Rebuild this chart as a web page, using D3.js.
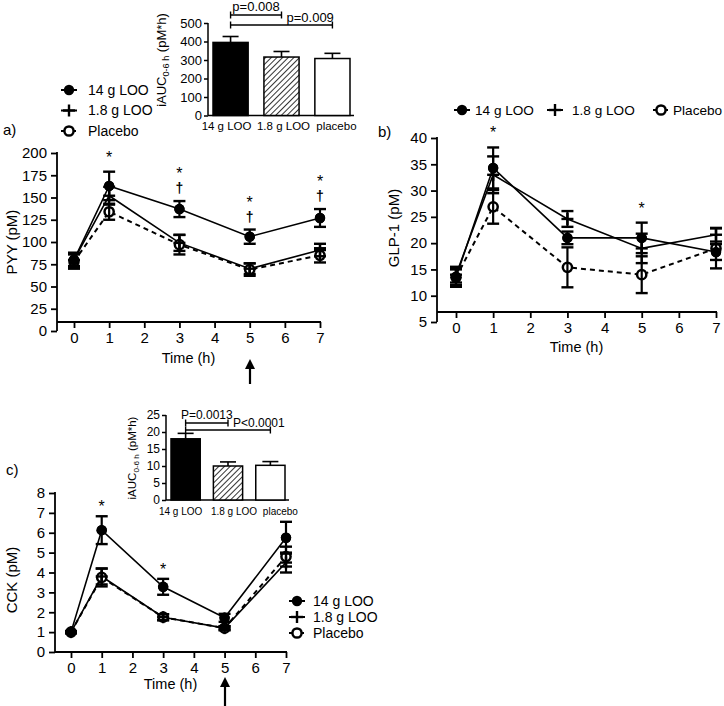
<!DOCTYPE html>
<html><head><meta charset="utf-8">
<script src="https://cdn.jsdelivr.net/npm/d3@7"></script>
<style>
body{margin:0;background:#fff}
text{font-family:"Liberation Sans",Arial,Helvetica,sans-serif;fill:#000}
</style>
</head><body>
<svg id="chart" width="724" height="706"></svg>
<script>
// ---------------- DATA ----------------
const times = [0, 1, 3, 5, 7];
const seriesNames = ["14 g LOO", "1.8 g LOO", "Placebo"];
const barCategories = ["14 g LOO", "1.8 g LOO", "placebo"];

const pyy14 = [80, 163, 137, 106, 127];
const pyy14Err = [8, 16, 9, 8, 10];
const pyy18 = [80, 152, 99, 70, 91];
const pyy18Err = [7, 10, 9, 6, 7];
const pyyPl = [78, 134, 97, 69, 85];
const pyyPlErr = [8, 9, 11, 7, 8];
const pyyTicks = [0, 25, 50, 75, 100, 125, 150, 175, 200];

const glp14 = [13.5, 34.3, 21.0, 21.0, 18.3];
const glp14Err = [1.8, 3.9, 1.2, 2.9, 1.5];
const glp18 = [14.0, 33.0, 24.6, 19.0, 21.6];
const glp18Err = [1.5, 3.5, 1.5, 2.8, 1.3];
const glpPl = [13.5, 26.9, 15.4, 14.0, 19.0];
const glpPlErr = [1.5, 3.2, 3.8, 3.5, 3.8];
const glpTicks = [5, 10, 15, 20, 25, 30, 35, 40];

const cck14 = [1.0, 6.13, 3.28, 1.72, 5.75];
const cck14Err = [0.05, 0.7, 0.4, 0.2, 0.8];
const cck18 = [1.0, 3.8, 1.75, 1.2, 4.5];
const cck18Err = [0.05, 0.4, 0.15, 0.1, 0.5];
const cckPl = [1.0, 3.75, 1.75, 1.2, 4.8];
const cckPlErr = [0.05, 0.45, 0.15, 0.1, 0.5];
const cckTicks = [0, 1, 2, 3, 4, 5, 6, 7, 8];

const xTicks = [0, 1, 2, 3, 4, 5, 6, 7];

const aucPyy = [395, 316, 308];
const aucPyyErr = [32, 30, 28];
const aucPyyTicks = [0, 100, 200, 300, 400, 500];
const aucCck = [18.0, 10.0, 10.2];
const aucCckErr = [1.6, 1.2, 1.1];
const aucCckTicks = [0, 5, 10, 15, 20, 25];

const annotPyy = [{t: 1, marks: ["*"]}, {t: 3, marks: ["*", "†"]}, {t: 5, marks: ["*", "†"]}, {t: 7, marks: ["*", "†"]}];
const annotGlp = [{t: 1, marks: ["*"]}, {t: 5, marks: ["*"]}];
const annotCck = [{t: 1, marks: ["*"]}, {t: 3, marks: ["*"]}];

const sigPyy = [{from: 0, to: 1, label: "p=0.008"}, {from: 0, to: 2, label: "p=0.009"}];
const sigCck = [{from: 0, to: 1, label: "P=0.0013"}, {from: 0, to: 2, label: "P<0.0001"}];

// ---------------- DRAWING ----------------
const svg = d3.select("#chart");
const defs = svg.append("defs");
const pat = defs.append("pattern").attr("id", "hatch").attr("patternUnits", "userSpaceOnUse")
  .attr("width", 4).attr("height", 4).attr("patternTransform", "rotate(45)");
pat.append("rect").attr("width", 4).attr("height", 4).attr("fill", "#fff");
pat.append("line").attr("x1", 0).attr("y1", 0).attr("x2", 0).attr("y2", 4).attr("stroke", "#000").attr("stroke-width", 1.6);

const markerTypes = ["filled", "plus", "open"];
const lineDash = [null, null, "5,4"];
const lineWidth = [1.6, 1.6, 2];

function marker(g, type, x, y) {
  if (type === "filled") {
    g.append("circle").attr("cx", x).attr("cy", y).attr("r", 5.2).attr("fill", "#000");
  } else if (type === "open") {
    g.append("circle").attr("cx", x).attr("cy", y).attr("r", 4.6).attr("fill", "#fff")
      .attr("stroke", "#000").attr("stroke-width", 2.5);
  } else {
    g.append("line").attr("x1", x - 6).attr("x2", x + 6).attr("y1", y).attr("y2", y).attr("stroke", "#000").attr("stroke-width", 2.4);
    g.append("line").attr("x1", x).attr("x2", x).attr("y1", y - 6).attr("y2", y + 6).attr("stroke", "#000").attr("stroke-width", 2.4);
  }
}

function legendItem(g, i, x, y, fs, off) {
  const l = g.append("line").attr("x1", x - 8).attr("x2", x + 8).attr("y1", y).attr("y2", y)
    .attr("stroke", "#000").attr("stroke-width", 2);
  if (lineDash[i]) l.attr("stroke-dasharray", "3,3");
  marker(g, markerTypes[i], x, y);
  g.append("text").attr("x", x + off).attr("y", y).attr("dy", "0.35em").attr("font-size", fs).text(seriesNames[i]);
}

function linePanel(o) {
  const x = d3.scaleLinear().domain([0, 7]).range(o.xr);
  const y = d3.scaleLinear().domain(o.yd).range(o.yr);
  const g = svg.append("g");
  const ya = g.append("g").attr("transform", `translate(${o.yAxisX},0)`)
    .call(d3.axisLeft(y).tickValues(o.yTicks).tickSize(6).tickPadding(4));
  ya.select(".domain").remove();
  ya.selectAll("line").attr("stroke-width", 1.8);
  ya.selectAll("text").attr("font-size", 15).attr("font-family", null);
  g.append("line").attr("x1", o.yAxisX).attr("x2", o.yAxisX).attr("y1", y(o.yd[1]) - 1).attr("y2", o.yBottom)
    .attr("stroke", "#000").attr("stroke-width", 1.8);
  const xa = g.append("g").attr("transform", `translate(0,${o.xAxisY})`)
    .call(d3.axisBottom(x).tickValues(xTicks).tickFormat(d3.format("d")).tickSize(6).tickPadding(4));
  xa.select(".domain").remove();
  xa.selectAll("line").attr("stroke-width", 1.8);
  xa.selectAll("text").attr("font-size", 15).attr("font-family", null);
  g.append("line").attr("x1", o.yAxisX).attr("x2", x(7) + 1).attr("y1", o.xAxisY).attr("y2", o.xAxisY)
    .attr("stroke", "#000").attr("stroke-width", 1.8);
  g.append("text").attr("x", (o.yAxisX + x(7)) / 2).attr("y", o.timeY).attr("text-anchor", "middle")
    .attr("font-size", 14.5).text("Time (h)");
  g.append("text").attr("transform", `translate(${o.ylabX},${o.ylabY}) rotate(-90)`).attr("text-anchor", "middle")
    .attr("font-size", 15).text(o.ylab);
  g.append("text").attr("x", o.tagX).attr("y", o.tagY).attr("font-size", 15).text(o.tag);

  const line = d3.line().x((d, i) => x(times[i])).y(d => y(d));
  [2, 1, 0].forEach(si => {
    const p = g.append("path").datum(o.vals[si]).attr("d", line).attr("fill", "none")
      .attr("stroke", "#000").attr("stroke-width", lineWidth[si]);
    if (lineDash[si]) p.attr("stroke-dasharray", lineDash[si]);
  });
  [2, 1, 0].forEach(si => {
    o.vals[si].forEach((v, i) => marker(g, markerTypes[si], x(times[i]), y(v)));
    o.vals[si].forEach((v, i) => {
      const cx = x(times[i]), e = o.errs[si][i];
      g.append("line").attr("x1", cx).attr("x2", cx).attr("y1", y(v - e)).attr("y2", y(v + e)).attr("stroke", "#000").attr("stroke-width", 2.2);
      [v - e, v + e].forEach(w => g.append("line").attr("x1", cx - 6).attr("x2", cx + 6).attr("y1", y(w)).attr("y2", y(w))
        .attr("stroke", "#000").attr("stroke-width", 2.4));
    });
  });
  o.vals[0].forEach((v, i) => marker(g, markerTypes[0], x(times[i]), y(v)));
  // annotations stacked above the 14 g error bar
  o.annot.forEach(a => {
    const i = times.indexOf(a.t);
    const top = y(o.vals[0][i] + o.errs[0][i]);
    let c = top - (a.marks[a.marks.length - 1] === "†" ? 13 : o.starGap);
    a.marks.slice().reverse().forEach(m => {
      if (m === "*") {
        g.append("text").attr("x", x(a.t)).attr("y", c + 8).attr("text-anchor", "middle").attr("font-size", 16).text("*");
      } else {
        g.append("text").attr("x", x(a.t)).attr("y", c + 5).attr("text-anchor", "middle").attr("font-size", 14).attr("font-weight", "bold").text(m);
      }
      c -= 17;
    });
  });
  return {x, y, g};
}

function arrow(x, yTip, yBase) {
  svg.append("line").attr("x1", x).attr("x2", x).attr("y1", yBase).attr("y2", yTip + 8).attr("stroke", "#000").attr("stroke-width", 2.2);
  svg.append("path").attr("d", `M${x - 5},${yTip + 10}L${x},${yTip}L${x + 5},${yTip + 10}Z`).attr("fill", "#000");
}

function barInset(o) {
  const g = svg.append("g");
  const xb = d3.scaleBand().domain(barCategories).range(o.xr).paddingInner(0.31).paddingOuter(0);
  const y = d3.scaleLinear().domain(o.yd).range(o.yr);
  const ya = g.append("g").attr("transform", `translate(${o.axisX},0)`)
    .call(d3.axisLeft(y).tickValues(o.ticks).tickSize(4).tickPadding(2));
  ya.select(".domain").remove();
  ya.selectAll("line").attr("stroke-width", 1.5);
  ya.selectAll("text").attr("font-size", o.tfs).attr("font-family", null);
  g.append("line").attr("x1", o.axisX).attr("x2", o.axisX).attr("y1", y(o.yd[1])).attr("y2", y(0)).attr("stroke", "#000").attr("stroke-width", 1.5);
  g.append("line").attr("x1", o.axisX).attr("x2", o.xr[1] + 4).attr("y1", y(0)).attr("y2", y(0)).attr("stroke", "#000").attr("stroke-width", 1.5);
  const fills = ["#000", "url(#hatch)", "#fff"];
  barCategories.forEach((c, i) => {
    const bx = xb(c), bw = xb.bandwidth(), cx = bx + bw / 2;
    const top = y(o.vals[i]), etop = y(o.vals[i] + o.errs[i]);
    g.append("line").attr("x1", cx).attr("x2", cx).attr("y1", top).attr("y2", etop).attr("stroke", "#000").attr("stroke-width", 1.6);
    g.append("line").attr("x1", cx - 8).attr("x2", cx + 8).attr("y1", etop).attr("y2", etop).attr("stroke", "#000").attr("stroke-width", 1.6);
    g.append("rect").attr("x", bx).attr("y", top).attr("width", bw).attr("height", y(0) - top)
      .attr("fill", fills[i]).attr("stroke", "#000").attr("stroke-width", 1.5);
    g.append("text").attr("x", cx + o.catShift[i]).attr("y", y(0) + o.catDy).attr("text-anchor", "middle").attr("font-size", o.cfs).text(c);
  });
  const t = g.append("text").attr("transform", `translate(${o.labX},${o.labY}) rotate(-90)`).attr("text-anchor", "middle").attr("font-size", o.lfs);
  t.append("tspan").text("iAUC");
  t.append("tspan").attr("font-size", o.lfs * 0.7).attr("dy", 3).text("0-6 h");
  t.append("tspan").attr("dy", -3).text(" (pM*h)");
  o.sig.forEach((s, k) => {
    const x1 = xb(barCategories[s.from]) + xb.bandwidth() / 2;
    const x2 = xb(barCategories[s.to]) + xb.bandwidth() / 2;
    const yy = o.sigY[k];
    g.append("line").attr("x1", x1).attr("x2", x2).attr("y1", yy).attr("y2", yy).attr("stroke", "#000").attr("stroke-width", 1.4);
    [x1, x2].forEach(xx => g.append("line").attr("x1", xx).attr("x2", xx).attr("y1", yy - 3.5).attr("y2", yy + 3.5).attr("stroke", "#000").attr("stroke-width", 1.4));
    if (k === 0) {
      g.append("text").attr("x", (x1 + x2) / 2).attr("y", yy - 4).attr("text-anchor", "middle").attr("font-size", o.tfs).text(s.label);
    } else {
      const prevX2 = xb(barCategories[o.sig[0].to]) + xb.bandwidth() / 2;
      g.append("text").attr("x", prevX2 + 5).attr("y", yy - 3).attr("font-size", o.tfs).text(s.label);
    }
  });
}

// Panel a
linePanel({
  xr: [74, 320], yd: [0, 200], yr: [331, 153], yTicks: pyyTicks, yAxisX: 57, yBottom: 331,
  xAxisY: 322, timeY: 363, ylab: "PYY (pM)", ylabX: 17, ylabY: 242, tag: "a)", tagX: 3, tagY: 135,
  vals: [pyy14, pyy18, pyyPl], errs: [pyy14Err, pyy18Err, pyyPlErr], annot: annotPyy, starGap: 17
});
arrow(250, 359, 384);
const legA = svg.append("g");
[0, 1, 2].forEach(i => legendItem(legA, i, 69, 90 + i * 20.5, 14, 19));

// Panel b
linePanel({
  xr: [456, 716], yd: [5, 40], yr: [322, 138], yTicks: glpTicks, yAxisX: 437, yBottom: 322,
  xAxisY: 312, timeY: 352, ylab: "GLP-1 (pM)", ylabX: 399, ylabY: 228, tag: "b)", tagX: 378, tagY: 137,
  vals: [glp14, glp18, glpPl], errs: [glp14Err, glp18Err, glpPlErr], annot: annotGlp, starGap: 17
});
const legB = svg.append("g");
legendItem(legB, 0, 462, 110, 13.6, 13);
legendItem(legB, 1, 555, 110, 13.6, 17);
legendItem(legB, 2, 661, 110, 13.6, 12);

// Panel c
linePanel({
  xr: [71, 286], yd: [0, 8], yr: [652, 493], yTicks: cckTicks, yAxisX: 55, yBottom: 652,
  xAxisY: 652, timeY: 689, ylab: "CCK (pM)", ylabX: 17, ylabY: 580, tag: "c)", tagX: 6, tagY: 475,
  vals: [cck14, cck18, cckPl], errs: [cck14Err, cck18Err, cckPlErr], annot: annotCck, starGap: 12
});
arrow(225, 677, 706);
const legC = svg.append("g");
[0, 1, 2].forEach(i => legendItem(legC, i, 297, 601 + i * 16, 14, 16));

// Insets
barInset({
  xr: [213, 350], yd: [0, 500], yr: [115.5, 23], axisX: 208, ticks: aucPyyTicks, tfs: 13, cfs: 11.5, lfs: 13,
  catShift: [-4, 2, 4],
  vals: aucPyy, errs: aucPyyErr, catDy: 14, labX: 166, labY: 60, sig: sigPyy, sigY: [15, 25]
});
barInset({
  xr: [171, 285], yd: [0, 25], yr: [500, 415], axisX: 166, ticks: aucCckTicks, tfs: 12, cfs: 10, lfs: 11.5,
  catShift: [-5, 6, 10],
  vals: aucCck, errs: aucCckErr, catDy: 15, labX: 136, labY: 458, sig: sigCck, sigY: [423, 430]
});
</script>
</body></html>
